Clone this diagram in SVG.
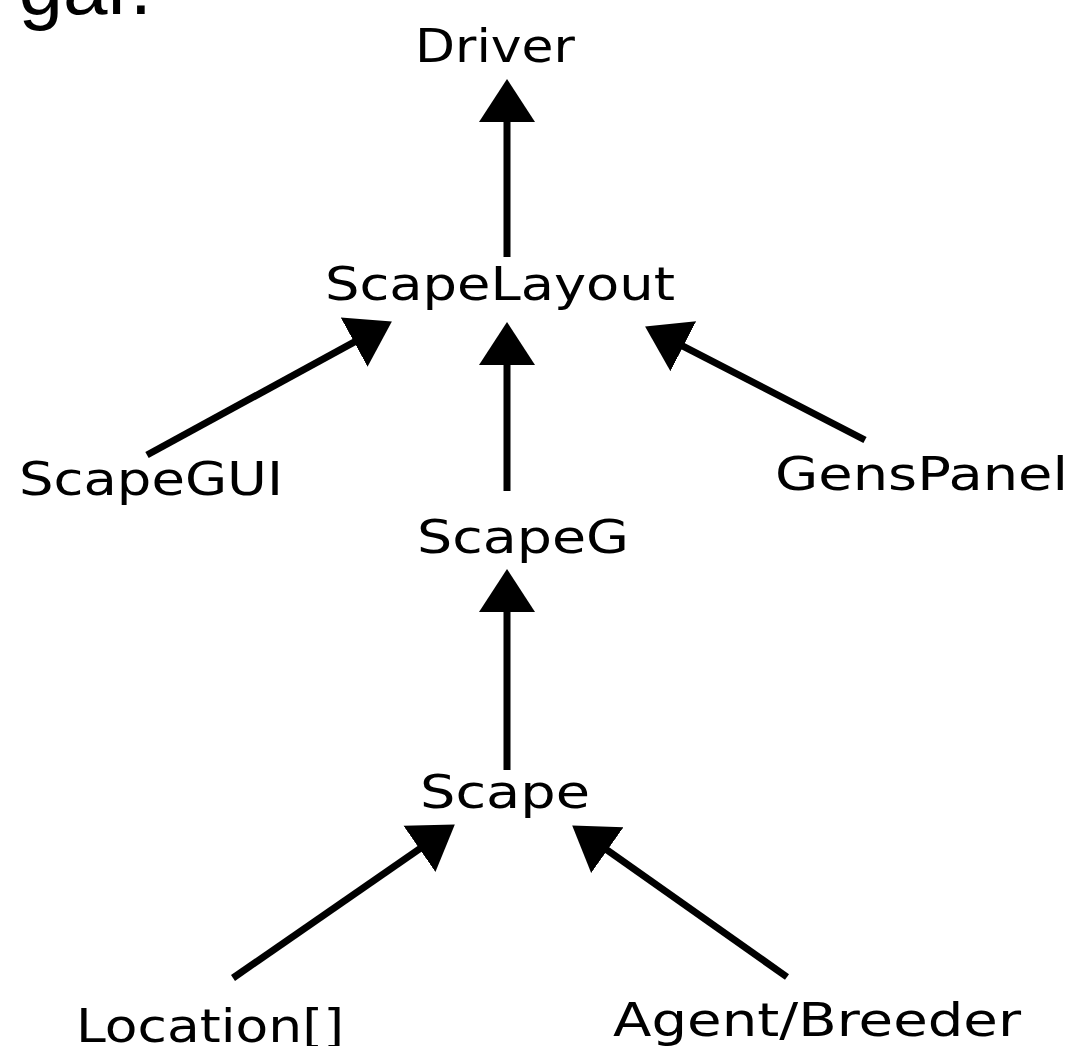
<svg xmlns="http://www.w3.org/2000/svg" width="1077" height="1046" viewBox="0 0 1077 1046">
<defs>
<style>
.lbl{font-family:"DejaVu Sans",Verdana,sans-serif;font-size:46px;fill:#000;}
.big{font-family:"Liberation Sans",Arial,sans-serif;font-size:80px;fill:#000;}
.edge{stroke:#000;stroke-width:7;fill:none;marker-end:url(#ah);}
</style>
<marker id="ah" markerUnits="userSpaceOnUse" markerWidth="46" markerHeight="58" viewBox="0 -29 46 58" refX="1" refY="0" orient="auto">
<path d="M0,-28 L43,0 L0,28 Z" fill="#000"/>
</marker>
</defs>
<rect width="1077" height="1046" fill="#fff"/>
<text class="big" x="152" y="14" text-anchor="end">gar.</text>
<g id="connectors">
<line class="edge" x1="507" y1="257" x2="507" y2="121"/>
<line class="edge" x1="147" y1="455" x2="355" y2="341.6"/>
<line class="edge" x1="507" y1="491" x2="507" y2="364"/>
<line class="edge" x1="865" y1="440" x2="682.4" y2="345.8"/>
<line class="edge" x1="507" y1="770" x2="507" y2="611"/>
<line class="edge" x1="233" y1="978" x2="420.3" y2="848.3"/>
<line class="edge" x1="787" y1="977" x2="606.5" y2="849.6"/>
</g>
<g id="driver"><text class="lbl" x="415" y="62" textLength="160" lengthAdjust="spacingAndGlyphs">Driver</text></g>
<g id="scapelayout"><text class="lbl" x="325" y="300" textLength="350" lengthAdjust="spacingAndGlyphs">ScapeLayout</text></g>
<g id="scapegui"><text class="lbl" x="19" y="495" textLength="264" lengthAdjust="spacingAndGlyphs">ScapeGUI</text></g>
<g id="genspanel"><text class="lbl" x="775" y="490" textLength="293" lengthAdjust="spacingAndGlyphs">GensPanel</text></g>
<g id="scapeg"><text class="lbl" x="417" y="553" textLength="212" lengthAdjust="spacingAndGlyphs">ScapeG</text></g>
<g id="scape"><text class="lbl" x="420" y="808" textLength="170" lengthAdjust="spacingAndGlyphs">Scape</text></g>
<g id="location"><text class="lbl" x="76" y="1042" textLength="268" lengthAdjust="spacingAndGlyphs">Location[]</text></g>
<g id="agentbreeder"><text class="lbl" x="613" y="1036" textLength="408" lengthAdjust="spacingAndGlyphs">Agent/Breeder</text></g>
</svg>
